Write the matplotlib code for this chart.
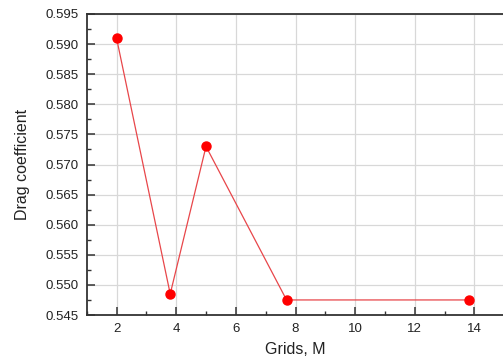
import matplotlib
matplotlib.use("Agg")
import matplotlib.pyplot as plt
from matplotlib.ticker import MultipleLocator

plt.rcParams['font.family'] = ['Liberation Sans', 'DejaVu Sans']

grids = [2.0, 3.8, 5.0, 7.7, 13.8]
drag = [0.591, 0.5485, 0.573, 0.5475, 0.5475]

W, H = 503, 356
fig = plt.figure(figsize=(W / 100, H / 100), dpi=100)
left, right, top, bottom = 86.7, 504.3, 14, 315
ax = fig.add_axes([left / W, 1 - bottom / H, (right - left) / W, (bottom - top) / H])

ax.plot(grids, drag, color='#e8464a', lw=0.9, marker='o', markersize=6.5,
        markerfacecolor='#ff0000', markeredgecolor='#ff0000', zorder=3)

ax.set_xlim(1, 15)
ax.set_ylim(0.545, 0.595)
ax.xaxis.set_major_locator(MultipleLocator(2))
ax.xaxis.set_minor_locator(MultipleLocator(1))
ax.yaxis.set_major_locator(MultipleLocator(0.005))
ax.yaxis.set_minor_locator(MultipleLocator(0.0025))
ax.set_xticks([2, 4, 6, 8, 10, 12, 14])
ax.set_yticklabels([f"{v:.3f}" for v in ax.get_yticks()])

ax.grid(True, which='major', color='#d8d8d8', lw=0.9)
ax.set_axisbelow(True)

for s in ['left', 'bottom', 'top']:
    ax.spines[s].set_color('#333333')
    ax.spines[s].set_linewidth(1.3)
ax.spines['right'].set_visible(False)

ax.tick_params(which='major', direction='in', length=6, width=1.1, color='#333333',
               labelsize=9.5, labelcolor='#222222', pad=6)
ax.tick_params(which='minor', direction='in', length=3, width=1.0, color='#333333')
ax.tick_params(top=False, right=False, which='both')

ax.set_xlabel("Grids, M", fontsize=11.5, labelpad=5, color='#222222')
ax.set_ylabel("Drag coefficient", fontsize=11.5, labelpad=11, color='#222222')

fig.savefig("out.png", dpi=100)
